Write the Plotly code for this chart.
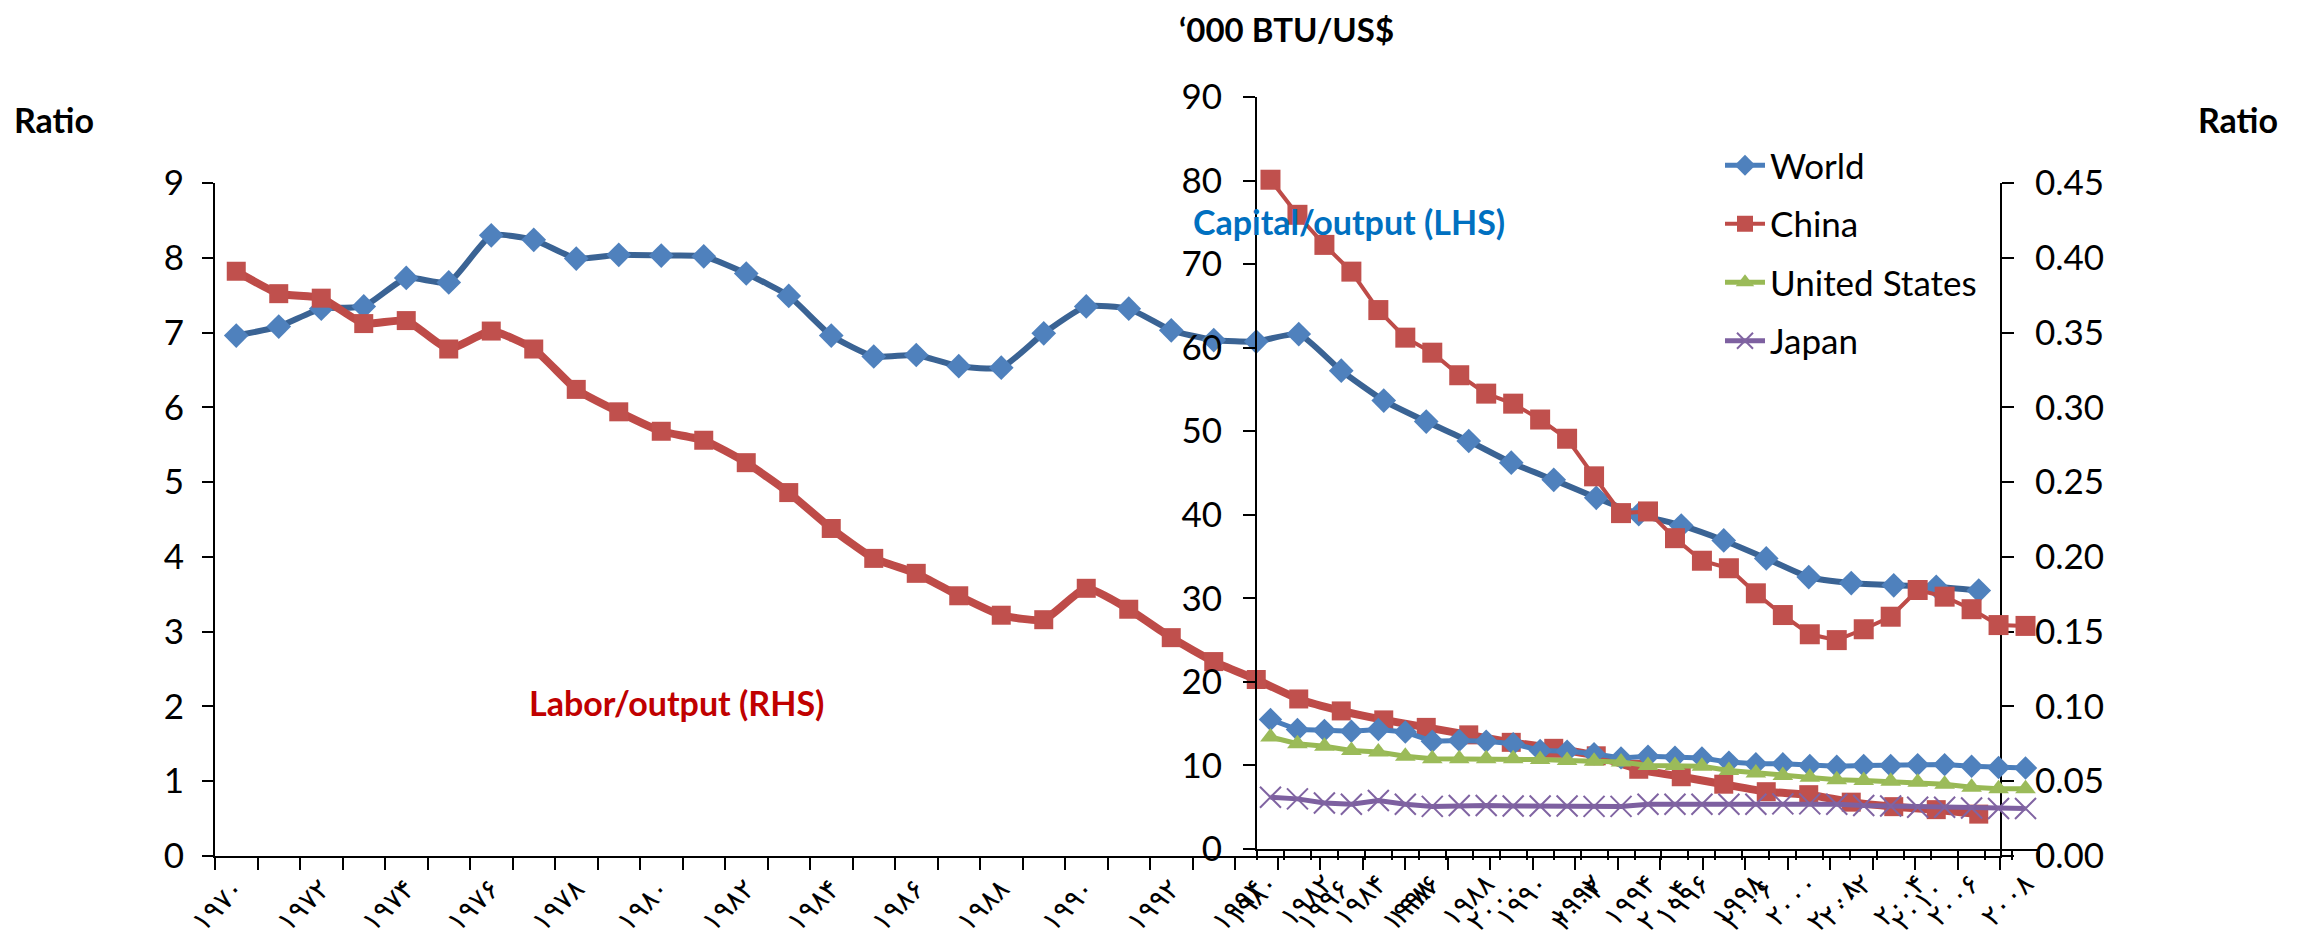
import plotly.graph_objects as go

# the page body adds an 8px margin, so the figure is drawn 8px smaller and offset
PAGE_W, PAGE_H, BODY = 2305, 945, 8
W, H = PAGE_W - BODY, PAGE_H - BODY

# chart A: capital/output (LHS) and labor/output (RHS), 1970-2011
years_a = list(range(1970, 2012))
capital_output = [6.96, 7.08, 7.32, 7.35, 7.73, 7.67, 8.30, 8.24, 7.99, 8.04, 8.03, 8.02, 7.79,
                  7.49, 6.96, 6.68, 6.70, 6.55, 6.53, 6.99, 7.35, 7.32, 7.03, 6.90, 6.88,
                  6.98, 6.49, 6.09, 5.81, 5.55, 5.26, 5.03, 4.79, 4.57, 4.42, 4.22, 3.98,
                  3.73, 3.65, 3.62, 3.60, 3.55]
labor_output = [0.391, 0.376, 0.373, 0.356, 0.358, 0.339, 0.351, 0.339, 0.312, 0.297, 0.284,
                0.278, 0.263, 0.243, 0.219, 0.199, 0.189, 0.174, 0.161, 0.158, 0.179, 0.165,
                0.146, 0.130, 0.118, 0.105, 0.097, 0.091, 0.086, 0.081, 0.076, 0.072, 0.067,
                0.058, 0.053, 0.048, 0.043, 0.041, 0.036, 0.033, 0.031, 0.028]

# chart B: energy intensity, '000 BTU/US$, 1980-2008
years_b = list(range(1980, 2009))
world = [15.5, 14.3, 14.2, 14.1, 14.3, 14.0, 12.9, 13.0, 12.9, 12.6, 11.8, 11.7, 11.4, 10.9,
         11.1, 11.0, 10.9, 10.4, 10.2, 10.2, 10.0, 9.9, 10.0, 10.0, 10.1, 10.1, 9.9, 9.75, 9.7]
china = [80.1, 75.9, 72.3, 69.1, 64.5, 61.2, 59.4, 56.7, 54.5, 53.3, 51.4, 49.1, 44.6, 40.2,
         40.4, 37.2, 34.5, 33.6, 30.6, 28.0, 25.7, 25.0, 26.3, 27.8, 31.0, 30.2, 28.7, 26.8, 26.7]
united_states = [13.4, 12.6, 12.3, 11.8, 11.6, 11.1, 10.8, 10.8, 10.8, 10.8, 10.7, 10.6, 10.5,
                 10.4, 10.0, 10.0, 9.9, 9.4, 9.1, 8.8, 8.6, 8.3, 8.2, 8.1, 8.0, 7.75, 7.4, 7.2, 7.2]
japan = [6.2, 6.0, 5.5, 5.35, 5.8, 5.35, 5.1, 5.2, 5.2, 5.15, 5.15, 5.15, 5.1, 5.1, 5.35, 5.35,
         5.35, 5.35, 5.35, 5.4, 5.4, 5.35, 5.2, 5.15, 5.0, 5.0, 4.9, 4.85, 4.85]

tick_years_a = list(range(1970, 2011, 2))
tick_text_a = ["۱۹۷۰", "۱۹۷۲", "۱۹۷۴", "۱۹۷۶", "۱۹۷۸", "۱۹۸۰", "۱۹۸۲", "۱۹۸۴", "۱۹۸۶", "۱۹۸۸",
               "۱۹۹۰", "۱۹۹۲", "۱۹۹۴", "۱۹۹۶", "۱۹۹۸", "۲۰۰۰", "۲۰۰۲", "۲۰۰۴", "۲۰۰۶", "۲۰۰۸", "۲۰۱۰"]
tick_years_b = list(range(1980, 2009, 2))
tick_text_b = ["۱۹۸۰", "۱۹۸۲", "۱۹۸۴", "۱۹۸۶", "۱۹۸۸", "۱۹۹۰", "۱۹۹۲", "۱۹۹۴", "۱۹۹۶", "۱۹۹۸",
               "۲۰۰۰", "۲۰۰۲", "۲۰۰۴", "۲۰۰۶", "۲۰۰۸"]

FONT = "Lato, 'DejaVu Sans', sans-serif"
YEAR_FONT = dict(family="'DejaVu Sans', sans-serif", size=28, color="black")


def fx(p):
    return (p - BODY) / W


def fy(p):
    return 1 - (p - BODY) / H


fig = go.Figure()

# chart A (thick lines)
fig.add_trace(go.Scatter(
    x=years_a, y=capital_output, xaxis="x", yaxis="y", mode="lines+markers",
    line=dict(color="#3A6394", width=6, shape="spline", smoothing=0.5),
    marker=dict(symbol="diamond", size=19, color="#4F81BD"), showlegend=False))
fig.add_trace(go.Scatter(
    x=years_a, y=labor_output, xaxis="x", yaxis="y2", mode="lines+markers",
    line=dict(color="#BE4B48", width=8, shape="spline", smoothing=0.5),
    marker=dict(symbol="square", size=19, color="#C0504D"), showlegend=False))

# chart B (legend series)
series_b = [
    ("World", world, "#4A7EBB", "#4F81BD", "diamond", 18, 5),
    ("China", china, "#BE4B48", "#C0504D", "square", 20, 4),
    ("United States", united_states, "#98B954", "#9BBB59", "triangle-up", 18, 5),
    ("Japan", japan, "#7D60A0", "#8064A2", "x-thin", 21, 5),
]
for name, vals, lc, mc, sym, sz, lw in series_b:
    marker = dict(symbol=sym, size=sz, color=mc)
    if sym == "x-thin":
        marker["line"] = dict(color=mc, width=2)
    fig.add_trace(go.Scatter(
        x=years_b, y=vals, xaxis="x2", yaxis="y3", mode="lines+markers", name=name,
        legendgroup=name, line=dict(color=lc, width=lw), marker=marker))

axis_common = dict(showline=True, linecolor="black", linewidth=2, showgrid=False,
                   zeroline=False, ticks="outside", tickcolor="black", tickwidth=2,
                   automargin=False)

fig.update_layout(
    width=W, height=H,
    margin=dict(l=0, r=0, t=0, b=0),
    paper_bgcolor="white", plot_bgcolor="rgba(0,0,0,0)",
    font=dict(family=FONT, color="black"),
    xaxis=dict(axis_common, domain=[fx(215), fx(2000)], range=[1969.5, 2011.5],
               anchor="y", tickmode="array", tickvals=tick_years_a, ticktext=tick_text_a,
               ticklen=0, tickangle=-45, tickfont=YEAR_FONT, ticklabelstandoff=3,
               minor=dict(tickmode="linear", tick0=1969.5, dtick=1, ticks="outside",
                          ticklen=12, tickcolor="black", tickwidth=2)),
    yaxis=dict(axis_common, domain=[fy(856), fy(183)], range=[0, 9], dtick=1,
               anchor="x", ticklen=11, tickfont=dict(size=35), ticklabelstandoff=11),
    yaxis2=dict(axis_common, overlaying="y", side="right", anchor="x", range=[0, 0.45],
                dtick=0.05, tickformat=".2f", ticklen=12, tickfont=dict(size=35),
                ticklabelstandoff=14),
    xaxis2=dict(axis_common, domain=[fx(1257), fx(2039)], range=[1979.5, 2008.5],
                anchor="y3", tickmode="array", tickvals=tick_years_b, ticktext=tick_text_b,
                ticklen=0, tickangle=-45, tickfont=YEAR_FONT, ticklabelstandoff=5,
                minor=dict(tickmode="linear", tick0=1979.5, dtick=1, ticks="outside",
                           ticklen=9, tickcolor="black", tickwidth=2)),
    yaxis3=dict(axis_common, domain=[fy(849), fy(97)], range=[0, 90], dtick=10,
                anchor="x2", side="left", ticklen=12, tickfont=dict(size=35),
                ticklabelstandoff=14),
    legend=dict(x=fx(1720), y=fy(136), xanchor="left", yanchor="top",
                font=dict(size=35), bgcolor="rgba(0,0,0,0)", tracegroupgap=10,
                itemwidth=40),
)

annotations = [
    dict(text="<b>Ratio</b>", x=fx(12), y=fy(120), xanchor="left", yanchor="middle",
         font=dict(size=34)),
    dict(text="<b>Ratio</b>", x=fx(2196), y=fy(120), xanchor="left", yanchor="middle",
         font=dict(size=34)),
    dict(text="<b>‘000 BTU/US$</b>", x=fx(1178), y=1.0, xanchor="left", yanchor="top",
         font=dict(size=33), borderpad=0),
    dict(text="<b>Capital/output (LHS)</b>", x=fx(1191), y=fy(222), xanchor="left",
         yanchor="middle", font=dict(size=34, color="#0070C0")),
    dict(text="<b>Labor/output (RHS)</b>", x=fx(527), y=fy(702), xanchor="left",
         yanchor="middle", font=dict(size=34, color="#C00000")),
]
for a in annotations:
    fig.add_annotation(xref="paper", yref="paper", showarrow=False, **a)

fig.write_html("out.html")
